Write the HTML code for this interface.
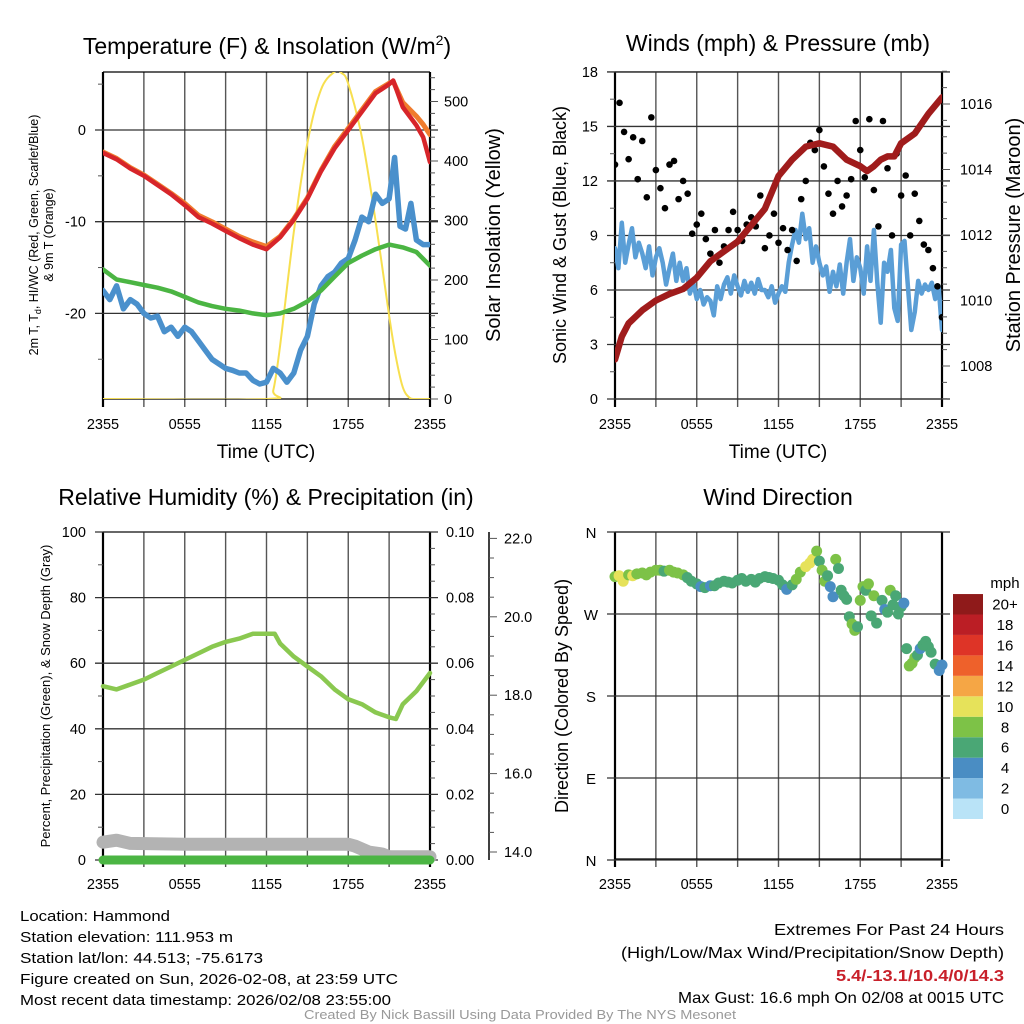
<!DOCTYPE html>
<html><head><meta charset="utf-8"><style>
html,body{margin:0;padding:0;background:#fff;}
svg{display:block;font-family:"Liberation Sans",Arial,sans-serif;}
</style></head><body>
<svg id="fig" width="1024" height="1024" viewBox="0 0 1024 1024" xmlns="http://www.w3.org/2000/svg">
<defs>
<clipPath id="c1"><rect x="103" y="72" width="327" height="327"/></clipPath>
<clipPath id="c2"><rect x="615" y="72" width="327" height="327"/></clipPath>
<clipPath id="c3"><rect x="96" y="520" width="345" height="348"/></clipPath>
<clipPath id="c4"><rect x="607" y="524" width="343" height="344"/></clipPath>
</defs>
<g id="layer"></g>
<g font-size="15" fill="#000">
<text x="20" y="921" textLength="150" lengthAdjust="spacingAndGlyphs">Location: Hammond</text>
<text x="20" y="942" textLength="213" lengthAdjust="spacingAndGlyphs">Station elevation: 111.953 m</text>
<text x="20" y="963" textLength="243" lengthAdjust="spacingAndGlyphs">Station lat/lon: 44.513; -75.6173</text>
<text x="20" y="984" textLength="378" lengthAdjust="spacingAndGlyphs">Figure created on Sun, 2026-02-08, at 23:59 UTC</text>
<text x="20" y="1005" textLength="371" lengthAdjust="spacingAndGlyphs">Most recent data timestamp: 2026/02/08 23:55:00</text>
</g>
<g font-size="16" fill="#000">
<text x="774" y="935" textLength="230" lengthAdjust="spacingAndGlyphs">Extremes For Past 24 Hours</text>
<text x="621" y="958" textLength="383" lengthAdjust="spacingAndGlyphs">(High/Low/Max Wind/Precipitation/Snow Depth)</text>
<text x="836" y="981" textLength="168" lengthAdjust="spacingAndGlyphs" fill="#c8202a" font-weight="bold">5.4/-13.1/10.4/0/14.3</text>
<text x="678" y="1003" textLength="326" lengthAdjust="spacingAndGlyphs">Max Gust: 16.6 mph On 02/08 at 0015 UTC</text>
</g>
<text x="304" y="1019" font-size="12.5" fill="#999" textLength="432" lengthAdjust="spacingAndGlyphs">Created By Nick Bassill Using Data Provided By The NYS Mesonet</text>
</svg>
<script>
// ---------- data ----------
const tempHours = [0,1,2,3,4,5,6,7,8,9,10,11,12,13,14,15,16,17,18,19,20,21,21.3,22,23,23.5,24];
const temp2m = [-2.5,-3.2,-4.2,-5,-6,-7,-8.2,-9.5,-10.2,-11,-11.8,-12.5,-13,-11.7,-9.8,-7.5,-4.5,-2,0,2,4,5,5.4,2.5,0.5,-0.8,-3.5];
const temp9m = [-2.4,-3.1,-4.1,-4.9,-5.9,-6.9,-8,-9.3,-10,-10.8,-11.6,-12.2,-12.7,-11.6,-9.7,-7.4,-4.4,-1.8,0.2,2.2,4.2,5.1,5.3,3,1.5,0.6,-0.5];
const dewHours = [0,1,2,3,4,5,6,7,8,9,10,11,12,13,14,15,16,17,18,19,20,21,22,23,24];
const dewpoint = [-15.2,-16.3,-16.6,-16.9,-17.2,-17.6,-18.2,-18.8,-19.2,-19.5,-19.7,-20,-20.2,-20,-19.5,-18.7,-17.5,-16,-14.5,-13.7,-13,-12.5,-12.8,-13.3,-14.8];
const wcHours = [0,0.5,1,1.5,2,2.5,3,3.5,4,4.5,5,5.5,6,6.5,7,7.5,8,8.5,9,9.5,10,10.5,11,11.5,12,12.5,13,13.5,14,14.5,15,15.5,16,16.5,17,17.5,18,18.5,19,19.5,20,20.5,21,21.4,21.8,22.2,22.6,23,23.5,24];
const windChill = [-17.5,-18.5,-17,-19.5,-18.5,-19,-20,-20.5,-20.3,-22,-21.5,-22.5,-21.5,-22,-23,-24,-25,-25.5,-26,-26.2,-26.5,-26.5,-27.3,-27.7,-27.5,-26,-26.5,-27.5,-26.5,-24,-22.5,-19,-17,-16,-15.5,-14.5,-14,-12,-9.5,-10,-7,-8,-7.5,-3,-10.5,-10.8,-8,-12,-12.5,-12.5];
const solarHours = [0,12,12.5,13,14,15,16,17,17.5,18,19,20,21,21.5,22,22.5,23,24];
const solar = [0,0,15,90,280,430,520,550,548,530,440,300,140,70,20,2,0,0];

const presHours = [0,0.5,1,2,3,4,5,6,7,8,9,10,11,12,13,14,15,16,17,18,18.5,19,19.5,20,20.5,21,22,23,24];
const pressure = [1008.2,1008.9,1009.3,1009.7,1010,1010.2,1010.35,1010.7,1011.2,1011.5,1011.8,1012.3,1012.8,1013.8,1014.3,1014.7,1014.8,1014.7,1014.3,1014.1,1013.95,1014.1,1014.3,1014.4,1014.4,1014.8,1015.1,1015.7,1016.2];
// quarter-hourly sonic wind speed
const windSpeed = [8.3,7.2,9.7,7.5, 8.5,9.4,7.8,8.6, 8,7.2,8.4,6.8, 7.8,8.3,7.5,6.3, 7.2,8,6.5,7.5, 6.5,7.2,5.8,6.4, 5.5,6,5.2,5.6, 5.4,4.6,6.2,5.5, 6.3,6.7,5.8,6.8, 6.2,5.7,6.5,5.9, 6.4,5.8,6.6,6, 6,5.6,6.2,5.3, 5.8,6.2,5.9,7.5, 8.5,9.3,8.6,10.2, 8.8,9.4,7.5,8.4, 7.5,6.8,7.3,5.9, 7,6.2,7.4,5.8, 7.5,8.8,6.5,7.8, 7.2,5.8,8.4,6.5, 9.3,6.4,4.2,7.5, 7,8.2,5,4.3, 8.5,8.7,6.2,3.8, 4.8,6.5,5.8,6.3, 6,6.4,5.5,6.2, 3.8];
const gustValues = [12.9,16.3,14.7,13.2,14.4,12.1,14.2,11.1,15.5,12.6,11.6,10.5,12.9,13.1,11.0,12.0,11.3,9.1,9.6,10.2,8.8,8.0,9.3,7.5,8.4,9.3,10.3,9.3,8.7,9.6,10.0,9.5,11.2,8.3,9.0,10.2,8.6,9.4,8.2,9.3,7.6,11.0,12.0,14.1,13.7,14.8,12.8,11.3,10.2,12.0,10.6,11.2,12.1,15.3,13.7,12.2,15.4,11.5,9.5,15.3,12.7,9.0,13.5,11.2,12.3,9.0,11.3,9.8,8.5,8.2,7.2,6.2,4.5];

const rhHours = [0,1,2,3,4,5,6,7,8,9,10,11,12,12.6,13,14,15,16,17,18,19,20,21,21.5,22,23,24];
const humidity = [53,52,53.5,55,57,59,61,63,65,66.5,67.5,69,69,69,66,62,59,56,52,49,47.5,45,43.5,43,47.5,51.5,57];
const precipHours = [0,24];
const precip = [0,0];
const snowHours = [0,1,2,6,12,18,18.5,19.5,20.5,21,24];
const snowDepth = [14.25,14.3,14.22,14.2,14.2,14.2,14.15,14.0,13.95,13.88,13.88];

const dirHours = [0,0.3,0.6,1,1.3,1.6,2,2.3,2.6,3,3.3,3.6,4,4.3,4.6,5,5.3,5.6,6,6.3,6.6,7,7.3,7.6,8,8.3,8.6,9,9.3,9.6,10,10.3,10.6,11,11.3,11.6,12,12.3,12.6,13,13.3,13.6,14,14.3,14.5,14.8,15,15.2,15.4,15.6,15.8,16,16.2,16.4,16.6,16.8,17,17.2,17.4,17.6,17.8,18,18.2,18.4,18.6,18.8,19,19.2,19.6,19.8,20,20.2,20.4,20.6,20.8,21,21.2,21.4,21.6,21.8,22,22.2,22.4,22.6,22.8,23,23.2,23.5,23.8,24];
const dirDegrees = [311,312,306,313,312,314,315,313,316,318,318,317,318,316,315,313,310,306,303,300,299,301,301,304,306,305,304,307,309,306,308,305,309,311,310,309,307,302,297,302,308,316,322,326,330,339,328,318,306,312,300,289,330,320,296,290,286,267,259,252,256,285,300,296,303,268,290,260,285,275,272,296,280,290,270,278,282,232,213,216,222,225,232,236,240,234,228,215,208,214];
const dirSpeeds = [9,11,11,9,11,9,9,9,9,9,9,7,9,9,9,9,7,7,7,5,7,5,7,7,7,7,7,7,7,7,7,7,7,7,7,7,7,7,5,7,9,9,11,11,11,9,7,9,9,7,5,5,9,7,7,7,7,7,9,9,7,9,9,7,9,7,9,7,7,5,7,9,7,7,7,7,5,7,9,9,9,7,5,7,7,7,7,7,5,5];

const xTickLabels = ["2355","0555","1155","1755","2355"];
const cbLabels = ["0","2","4","6","8","10","12","14","16","18","20+"];
const cbColors = ["#b9e3f7","#7fbbe3","#4a8dc3","#4aa775","#7dc247","#e6e25a","#f5a645","#ee612b","#de3427","#bb1e25","#8f1a1a"];

// ---------- helpers ----------
const NS = "http://www.w3.org/2000/svg";
const layer = document.getElementById('layer');
function mk(tag, attrs, parent){
  const e = document.createElementNS(NS, tag);
  for (const k in attrs) e.setAttribute(k, attrs[k]);
  (parent || layer).appendChild(e);
  return e;
}
function txt(s, x, y, size, anchor, parent, extra){
  const t = mk('text', Object.assign({x:x, y:y, 'font-size':size, 'text-anchor':anchor || 'middle', fill:'#000'}, extra || {}), parent);
  t.textContent = s;
  return t;
}
function poly(xs, ys, fx, fy, stroke, w, clip, parent){
  let d = '';
  for (let i = 0; i < xs.length; i++) d += (i ? 'L' : 'M') + fx(xs[i]).toFixed(1) + ',' + fy(ys[i]).toFixed(1);
  return mk('path', {d:d, fill:'none', stroke:stroke, 'stroke-width':w, 'stroke-linejoin':'round', 'stroke-linecap':'round', 'clip-path':'url(#' + clip + ')'}, parent);
}
function smooth(xs, ys, fx, fy){
  const P = xs.map((x, i) => [fx(x), fy(ys[i])]);
  let d = 'M' + P[0][0] + ',' + P[0][1];
  for (let i = 0; i < P.length - 1; i++){
    const p0 = P[Math.max(0, i-1)], p1 = P[i], p2 = P[i+1], p3 = P[Math.min(P.length-1, i+2)];
    const c1 = [p1[0] + (p2[0]-p0[0])/6, p1[1] + (p2[1]-p0[1])/6];
    const c2 = [p2[0] - (p3[0]-p1[0])/6, p2[1] - (p3[1]-p1[1])/6];
    d += 'C' + c1.join(',') + ' ' + c2.join(',') + ' ' + p2.join(',');
  }
  return d;
}
function frame(x0, y0, g){
  for (let h = 0; h <= 24; h += 3){
    const x = x0 + h * 327 / 24;
    mk('line', {x1:x, y1:y0, x2:x, y2:y0 + 327 + 8, stroke: (h % 24 === 0) ? '#000' : '#555', 'stroke-width': (h % 24 === 0) ? 2.2 : 1.4}, g);
  }
  mk('line', {x1:x0, y1:y0, x2:x0 + 327, y2:y0, stroke:'#000', 'stroke-width':1.3}, g);
  mk('line', {x1:x0, y1:y0 + 327, x2:x0 + 327, y2:y0 + 327, stroke:'#000', 'stroke-width':1.3}, g);
  for (let i = 0; i < xTickLabels.length; i++){
    const t = txt(xTickLabels[i], x0 + i * 327 / 4, y0 + 357, 14.5, 'middle', g);
    
    
  }
}
function hgrid(x0, y, g, right){
  mk('line', {x1:x0 - 8, y1:y, x2:x0 + 327 + (right ? 8 : 0), y2:y, stroke:'#333', 'stroke-width':1.3}, g);
}
function tick(x, y, len, g){ mk('line', {x1:x, y1:y, x2:x + len, y2:y, stroke:'#555', 'stroke-width':1}, g); }

// ================= PANEL 1: temperature =================
const g1 = mk('g', {});


const x1 = h => 103 + h * 327 / 24;
const yT = v => 130 - v * 9.17;
const yS = v => 399 - v * 0.595;
frame(103, 72, g1);
[0, -10, -20].forEach(v => { hgrid(103, yT(v), g1, true); txt(String(v), 86, yT(v) + 5, 14.5, 'end', g1); });
[5, -5, -15, -25].forEach(v => tick(103, yT(v), -5, g1));
for (let v = 0; v <= 540; v += 20){ tick(430, yS(v), v % 100 === 0 ? 8 : 5, g1); }
[0,100,200,300,400,500].forEach(v => txt(String(v), 444, yS(v) + 5, 14.5, 'start', g1));
const ySolar = mk('path', {d: smooth(solarHours, solar, x1, yS), fill:'none', stroke:'#f7df4f', 'stroke-width':2, 'clip-path':'url(#c1)'}, g1);


const lWc = poly(wcHours, windChill, x1, yT, '#4a90cc', 5.5, 'c1', g1);


const lDew = poly(dewHours, dewpoint, x1, yT, '#4bb543', 4.5, 'c1', g1);


const l9m = poly(tempHours, temp9m, x1, yT, '#f07c2e', 5, 'c1', g1);


const l2m = poly(tempHours, temp2m, x1, yT, '#d7252a', 4.5, 'c1', g1);


const t1 = mk('text', {x:267, y:54, 'font-size':23, 'text-anchor':'middle'}, g1);
t1.innerHTML = 'Temperature (F) &amp; Insolation (W/m<tspan dy="-9" font-size="14">2</tspan><tspan dy="9">)</tspan>';


txt('Time (UTC)', 266, 458, 19, 'middle', g1);
const yl1 = mk('text', {transform:'translate(38,235) rotate(-90)', 'font-size':12.5, 'text-anchor':'middle'}, g1);
yl1.innerHTML = '2m T, T<tspan dy="3" font-size="9">d</tspan><tspan dy="-3">, HI/WC (Red, Green, Scarlet/Blue)</tspan>';


txt('& 9m T (Orange)', 0, 0, 12.5, 'middle', g1, {transform:'translate(53,235) rotate(-90)'});
const yr1 = txt('Solar Insolation (Yellow)', 0, 0, 20, 'middle', g1, {transform:'translate(500,235) rotate(-90)'});



// ================= PANEL 2: winds =================
const g2 = mk('g', {});


const x2 = h => 615 + h * 327 / 24;
const yW = v => 399 - v * 18.17;
const yP = p => 104 + (1016 - p) * 32.75;
frame(615, 72, g2);
for (let v = 0; v <= 18; v += 3){ hgrid(615, yW(v), g2, true); txt(String(v), 598, yW(v) + 5, 14.5, 'end', g2); }
for (let v = 1.5; v < 18; v += 3) tick(615, yW(v), -5, g2);
for (let p = 1007; p <= 1017; p += 0.5){ tick(942, yP(p), (p % 2 === 0) ? 8 : 5, g2); }
[1008,1010,1012,1014,1016].forEach(p => txt(String(p), 960, yP(p) + 5, 14.5, 'start', g2));
const speedHours = windSpeed.map((v, i) => i / 4);
const ls = poly(speedHours, windSpeed, x2, yW, '#5a9ed6', 4.5, 'c2', g2);


gustValues.forEach((v, i) => {
  const c = mk('circle', {cx: x2(i / 3), cy: yW(v), r: 3.3, fill:'#000', 'clip-path':'url(#c2)'}, g2);
  
  
});
const lp = poly(presHours, pressure, x2, yP, '#a01c1c', 6.5, 'c2', g2);


const t2 = txt('Winds (mph) & Pressure (mb)', 778, 51, 23, 'middle', g2);


txt('Time (UTC)', 778, 458, 19, 'middle', g2);
txt('Sonic Wind & Gust (Blue, Black)', 0, 0, 18, 'middle', g2, {transform:'translate(566,235) rotate(-90)'});
txt('Station Pressure (Maroon)', 0, 0, 20, 'middle', g2, {transform:'translate(1020,235) rotate(-90)'});

// ================= PANEL 3: RH =================
const g3 = mk('g', {});


const x3 = h => 103 + h * 327 / 24;
const yR = v => 860 - v * 3.28;
const yPr = v => 860 - v * 3280;
const ySn = v => 852 - (v - 14) * 39.2;
frame(103, 532, g3);
for (let v = 0; v <= 100; v += 20){ hgrid(103, yR(v), g3, true); txt(String(v), 86, yR(v) + 5, 14.5, 'end', g3); txt((v / 1000).toFixed(2), 446, yR(v) + 5, 14.5, 'start', g3); }
for (let v = 10; v < 100; v += 20) tick(103, yR(v), -5, g3);
for (let v = 5; v < 100; v += 5) if (v % 20) tick(430, yR(v), 5, g3);
mk('line', {x1:489, y1:532, x2:489, y2:860, stroke:'#000', 'stroke-width':1.5}, g3);
for (let v = 14; v <= 22.01; v += 0.5){ tick(489, ySn(v), (Math.abs(v % 2) < 0.01) ? 8 : 5, g3); }
[14,16,18,20,22].forEach(v => txt(v.toFixed(1), 504, ySn(v) + 5, 14.5, 'start', g3));
const lsn = poly(snowHours, snowDepth, x3, ySn, '#b3b3b3', 13, 'c3', g3);


const lpr = poly(precipHours, precip, x3, yPr, '#4bb543', 9, 'c3', g3);


const lrh = poly(rhHours, humidity, x3, yR, '#8ac850', 4.5, 'c3', g3);


const t3 = txt('Relative Humidity (%) & Precipitation (in)', 266, 505, 23, 'middle', g3);


txt('Percent, Precipitation (Green), & Snow Depth (Gray)', 0, 0, 13, 'middle', g3, {transform:'translate(50,696) rotate(-90)'});

// ================= PANEL 4: wind direction =================
const g4 = mk('g', {});


const x4 = h => 615 + h * 327 / 24;
const yD = d => 860 - d * 328 / 360;
frame(615, 532, g4);
const dirLbl = ['N','E','S','W','N'];
for (let i = 0; i <= 4; i++){ const d = i * 90; hgrid(615, yD(d), g4, true); txt(dirLbl[i], 591, yD(d) + 6, 15, 'middle', g4); }
dirHours.forEach((h, i) => {
  const bin = Math.min(10, Math.floor(dirSpeeds[i] / 2));
  const c = mk('circle', {cx: x4(h), cy: yD(dirDegrees[i]), r: 5.5, fill: cbColors[bin], 'clip-path':'url(#c4)'}, g4);
  
  
});
const t4 = txt('Wind Direction', 778, 505, 23, 'middle', g4);


txt('Direction (Colored By Speed)', 0, 0, 18, 'middle', g4, {transform:'translate(568,696) rotate(-90)'});
const cb = mk('g', {}, g4);


cbColors.forEach((col, i) => {
  const y = 819 - (i + 1) * 20.45;
  mk('rect', {x:953, y:y, width:30, height:20.45, fill:col}, cb);
  txt(cbLabels[i], 1005, y + 15.5, 15, 'middle', cb);
});
txt('mph', 1005, 588, 15, 'middle', cb);
</script>
</body></html>
